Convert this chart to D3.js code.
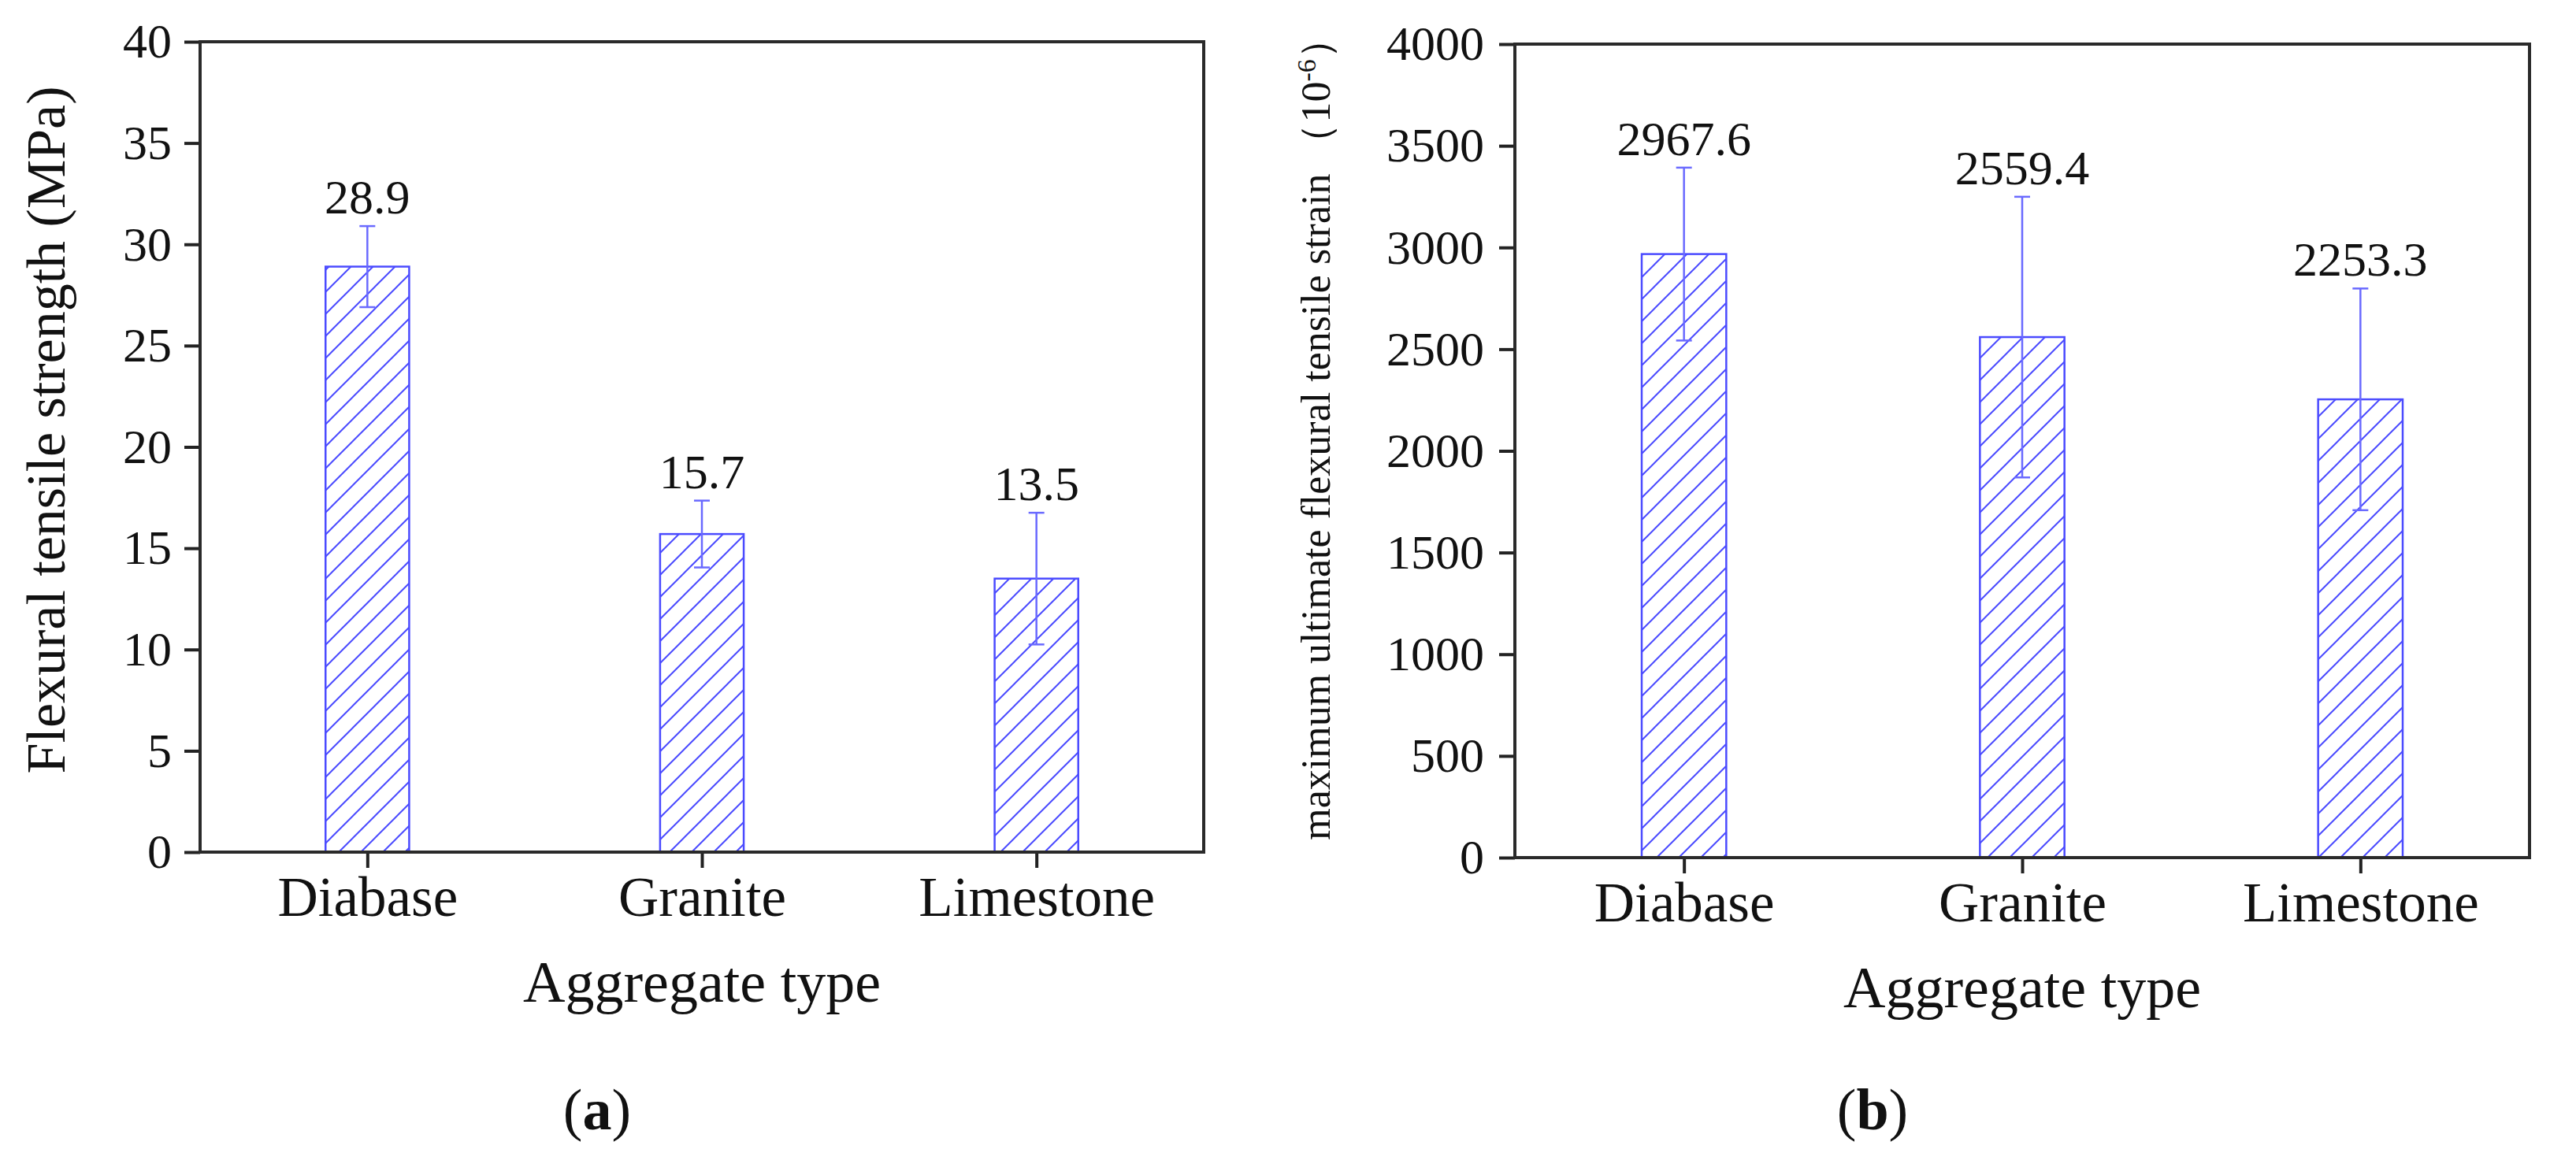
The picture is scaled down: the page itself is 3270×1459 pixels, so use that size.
<!DOCTYPE html>
<html>
<head>
<meta charset="utf-8">
<script src="https://cdn.jsdelivr.net/npm/d3@7"></script>
<style>
  body { margin: 0; background: #fff; }
  text { font-family: "Liberation Serif", "Times New Roman", serif; fill: #111; }
</style>
</head>
<body>
<svg id="chart" width="3270" height="1459"></svg>
<script>
// data
var categories = ["Diabase", "Granite", "Limestone"];

var strengthMean = [28.9, 15.7, 13.5];
var strengthErr = [2.0, 1.65, 3.25];
var strengthTicks = [0, 5, 10, 15, 20, 25, 30, 35, 40];

var strainMean = [2967.6, 2559.4, 2253.3];
var strainErr = [425, 690, 545];
var strainTicks = [0, 500, 1000, 1500, 2000, 2500, 3000, 3500, 4000];

var barColor = "#4b4bff";
var errColor = "#6a6aff";

var svg = d3.select("#chart");
svg.append("rect").attr("width", 3270).attr("height", 1459).attr("fill", "#fff");

// hatch fill "/"
var defs = svg.append("defs");
var pat = defs.append("pattern")
    .attr("id", "hatch")
    .attr("patternUnits", "userSpaceOnUse")
    .attr("width", 28)
    .attr("height", 28);
pat.append("rect").attr("width", 28).attr("height", 28).attr("fill", "#fff");
pat.append("path")
    .attr("d", "M-7,7 L7,-7 M0,28 L28,0 M21,35 L35,21")
    .attr("stroke", barColor)
    .attr("stroke-width", 2);

function drawPanel(opt) {
  var g = svg.append("g");

  var x = d3.scalePoint()
      .domain(categories)
      .range([opt.left, opt.right])
      .padding(0.5);
  var y = d3.scaleLinear()
      .domain([opt.ticks[0], opt.ticks[opt.ticks.length - 1]])
      .range([opt.bottom, opt.top]);

  var barW = x.step() * 0.25;

  // bars
  g.selectAll("rect.bar")
      .data(opt.mean)
      .enter().append("rect")
      .attr("class", "bar")
      .attr("x", function(d, i) { return x(categories[i]) - barW / 2; })
      .attr("y", function(d) { return y(d); })
      .attr("width", barW)
      .attr("height", function(d) { return y(0) - y(d); })
      .attr("fill", "url(#hatch)")
      .attr("stroke", barColor)
      .attr("stroke-width", 2.5);

  // error bars
  var eb = g.selectAll("g.err")
      .data(opt.mean)
      .enter().append("g")
      .attr("class", "err")
      .attr("stroke", errColor)
      .attr("stroke-width", 2.5);
  eb.append("line")
      .attr("x1", function(d, i) { return x(categories[i]); })
      .attr("x2", function(d, i) { return x(categories[i]); })
      .attr("y1", function(d, i) { return y(d - opt.err[i]); })
      .attr("y2", function(d, i) { return y(d + opt.err[i]); });
  eb.append("line")
      .attr("x1", function(d, i) { return x(categories[i]) - 10; })
      .attr("x2", function(d, i) { return x(categories[i]) + 10; })
      .attr("y1", function(d, i) { return y(d + opt.err[i]); })
      .attr("y2", function(d, i) { return y(d + opt.err[i]); });
  eb.append("line")
      .attr("x1", function(d, i) { return x(categories[i]) - 10; })
      .attr("x2", function(d, i) { return x(categories[i]) + 10; })
      .attr("y1", function(d, i) { return y(d - opt.err[i]); })
      .attr("y2", function(d, i) { return y(d - opt.err[i]); });

  // value labels
  g.selectAll("text.val")
      .data(opt.mean)
      .enter().append("text")
      .attr("class", "val")
      .attr("x", function(d, i) { return x(categories[i]); })
      .attr("y", function(d, i) { return y(d + opt.err[i]) - 16; })
      .attr("text-anchor", "middle")
      .style("font-size", "62px")
      .text(function(d) { return d.toFixed(1); });

  // axes
  var yAxis = g.append("g")
      .attr("transform", "translate(" + opt.left + ",0)")
      .call(d3.axisLeft(y).tickValues(opt.ticks).tickFormat(d3.format("d"))
        .tickSize(20).tickSizeOuter(0).tickPadding(opt.yPad));
  yAxis.select(".domain").remove();
  yAxis.selectAll("line").attr("stroke", "#222").attr("stroke-width", 4);
  yAxis.selectAll("text").style("font-size", "62px").attr("fill", "#111");

  var xAxis = g.append("g")
      .attr("transform", "translate(0," + opt.bottom + ")")
      .call(d3.axisBottom(x).tickSize(20).tickSizeOuter(0).tickPadding(11));
  xAxis.select(".domain").remove();
  xAxis.selectAll("line").attr("stroke", "#222").attr("stroke-width", 4);
  xAxis.selectAll("text").style("font-size", "71px").attr("fill", "#111");

  // frame
  g.append("rect")
      .attr("x", opt.left)
      .attr("y", opt.top)
      .attr("width", opt.right - opt.left)
      .attr("height", opt.bottom - opt.top)
      .attr("fill", "none")
      .attr("stroke", "#2a2a2a")
      .attr("stroke-width", 4);

  // x title
  g.append("text")
      .attr("x", (opt.left + opt.right) / 2)
      .attr("y", opt.bottom + 190)
      .attr("text-anchor", "middle")
      .style("font-size", "74px")
      .text("Aggregate type");

  // panel letter
  var lab = g.append("text")
      .attr("x", opt.letterX)
      .attr("y", 1434)
      .attr("text-anchor", "middle")
      .style("font-size", "74px");
  lab.append("tspan").text("(");
  lab.append("tspan").style("font-weight", "bold").text(opt.letter);
  lab.append("tspan").text(")");

  return g;
}

var ga = drawPanel({
  left: 254, right: 1528, top: 53, bottom: 1082,
  mean: strengthMean, err: strengthErr, ticks: strengthTicks,
  yPad: 16, letter: "a", letterX: 758
});

ga.append("text")
    .attr("transform", "translate(82,546) rotate(-90)")
    .attr("text-anchor", "middle")
    .style("font-size", "70px")
    .text("Flexural tensile strength (MPa)");

var gb = drawPanel({
  left: 1923, right: 3211, top: 56, bottom: 1089,
  mean: strainMean, err: strainErr, ticks: strainTicks,
  yPad: 19, letter: "b", letterX: 2377
});

var t = gb.append("text")
    .attr("transform", "translate(1688,545) rotate(-90)")
    .attr("text-anchor", "middle")
    .style("font-size", "52px");
t.append("tspan").text("maximum ultimate flexural tensile strain \uFF0810");
t.append("tspan").attr("baseline-shift", "super").style("font-size", "34px").text("-6");
t.append("tspan").text("\uFF09");
</script>
</body>
</html>
